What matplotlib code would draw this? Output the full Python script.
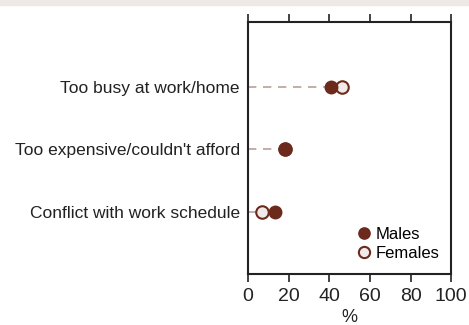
import matplotlib.pyplot as plt
from matplotlib.patches import Rectangle

# data
categories = ["Too busy at work/home", "Too expensive/couldn't afford", "Conflict with work schedule"]
males = [41, 18, 13]
females = [46, 18, 7]
y_pos = [3, 2, 1]

dark = "#6b2a1c"
light_fill = "#f0ebe8"
dash_col = "#b9a09a"

plt.rcParams['font.family'] = ['Liberation Sans', 'DejaVu Sans']

fig = plt.figure(figsize=(4.69, 3.25), dpi=100)
fig.patches.append(Rectangle((0, 0.986), 1, 0.014, transform=fig.transFigure,
                             color="#eee9e5", zorder=0))
ax = fig.add_axes([0.529, 0.157, 0.433, 0.775])

# dashed guide lines from 0 to the smaller value
for y, m, f in zip(y_pos, males, females):
    ax.plot([0, min(m, f)], [y, y], color=dash_col, linestyle=(0, (5, 4)),
            linewidth=1.2, zorder=1)

ax.plot(females, y_pos, "o", markerfacecolor=light_fill, markeredgecolor=dark,
        markeredgewidth=1.5, markersize=9, label="Females", zorder=3)
ax.plot(males, y_pos, "o", color=dark, markersize=9, label="Males", zorder=4)

ax.set_xlim(0, 100)
ax.set_ylim(0, 4.04)
ax.set_xticks(range(0, 101, 20))
ax.set_yticks(y_pos)
ax.set_yticklabels(categories)
ax.tick_params(axis="x", top=True, direction="out", length=6, width=1.2,
               labelsize=14, colors="#222222", pad=4)
ax.tick_params(axis="y", length=0, labelsize=12.5, colors="#222222", pad=6)
for s in ax.spines.values():
    s.set_linewidth(1.5)
    s.set_color("#222222")
ax.set_xlabel("%", fontsize=13, color="#222222", labelpad=3)

handles, labels = ax.get_legend_handles_labels()
ax.legend(handles[::-1], labels[::-1], loc="lower right",
          bbox_to_anchor=(0.99, 0.012), frameon=False,
          handletextpad=0.1, labelspacing=0.25, fontsize=12, handlelength=1.2,
          borderaxespad=0.2, markerscale=0.9)

plt.savefig("out.png", dpi=100)
